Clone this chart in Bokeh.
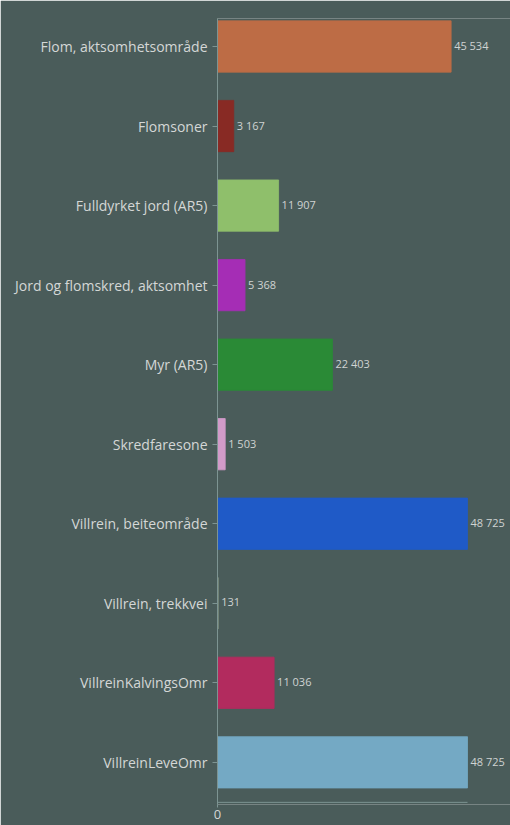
from bokeh.plotting import figure
from bokeh.models import ColumnDataSource, FixedTicker
from bokeh.core.properties import value
from bokeh.embed import file_html
from bokeh.resources import INLINE

categories = ["Flom, aktsomhetsområde", "Flomsoner", "Fulldyrket jord (AR5)",
              "Jord og flomskred, aktsomhet", "Myr (AR5)", "Skredfaresone",
              "Villrein, beiteområde", "Villrein, trekkvei", "VillreinKalvingsOmr",
              "VillreinLeveOmr"]
values = [45534, 3167, 11907, 5368, 22403, 1503, 48725, 131, 11036, 48725]
colors = ["#bd6c45", "#882a24", "#8fbf6b", "#a52db5", "#2a8a36", "#d29bc9",
          "#1f5ac7", "#8a9a86", "#b22b5e", "#74a9c4"]

BG = "#4a5c5a"
n = len(categories)
ypos = [n - 1 - i for i in range(n)]
labels = [f"{v:,}".replace(",", " ") for v in values]

src = ColumnDataSource(dict(y=ypos, v=values, c=colors, lab=labels, cat=categories))

vmax = max(values)
x_end = vmax * 293 / 250
y_axis_line = -0.503
y_start = -0.53

p = figure(width=510, height=825, output_backend="svg", toolbar_location=None,
           x_range=(0, x_end), y_range=(y_start, n - 1 + 0.352),
           min_border_left=217, min_border_right=0, min_border_top=18,
           min_border_bottom=21)
p.background_fill_color = BG
p.border_fill_color = BG
p.outline_line_color = None
p.xgrid.visible = False
p.ygrid.visible = False

axis_color = "#7d9492"

p.hbar(y="y", right="v", left=0, height=0.645, fill_color="c", line_color="c",
       line_width=0.8, source=src)
p.text(x="v", y="y", text="lab", source=src, x_offset=3, y_offset=-1,
       text_baseline="middle", text_align="left", text_color="#cfd3d2",
       text_font_size="11px", text_font=value("Open Sans"))
# bottom axis line limited to the data extent
p.segment(x0=[0], x1=[vmax], y0=[y_axis_line], y1=[y_axis_line],
          line_color=axis_color, line_width=1)

p.yaxis.ticker = FixedTicker(ticks=ypos)
p.yaxis.major_label_overrides = {y: c for y, c in zip(ypos, categories)}
p.yaxis.major_label_text_font = "Open Sans"
p.yaxis.major_label_text_font_size = "14px"
p.yaxis.major_label_text_color = "#d4d7d6"
p.yaxis.axis_line_color = axis_color
p.yaxis.major_tick_line_color = axis_color
p.yaxis.major_tick_out = 5
p.yaxis.major_tick_in = 0
p.yaxis.minor_tick_line_color = None
p.yaxis.major_label_standoff = 5

p.xaxis.ticker = FixedTicker(ticks=[0])
p.xaxis.major_label_text_font = "Open Sans"
p.xaxis.major_label_text_font_size = "13px"
p.xaxis.major_label_text_color = "#d4d7d6"
p.xaxis.axis_line_color = None
p.xaxis.major_tick_line_color = axis_color
p.xaxis.major_tick_out = 3
p.xaxis.major_tick_in = 0
p.xaxis.minor_tick_line_color = None
p.xaxis.major_label_standoff = 2

open("out.html", "w").write(file_html(p, INLINE))
